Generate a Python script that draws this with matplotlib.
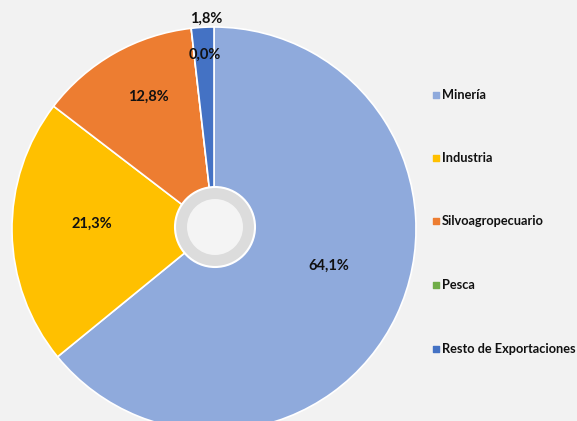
import matplotlib.pyplot as plt
from matplotlib.patches import Circle

# data
categories = ['Minería', 'Industria', 'Silvoagropecuario', 'Pesca', 'Resto de Exportaciones']
values = [64.1, 21.3, 12.8, 0.0, 1.8]
colors = ['#8FAADC', '#FFC000', '#ED7D31', '#70AD47', '#4472C4']
labels = ['64,1%', '21,3%', '12,8%', '0,0%', '1,8%']

plt.rcParams['font.family'] = ['Lato', 'DejaVu Sans']

W, H = 577, 421
fig = plt.figure(figsize=(W / 100, H / 100), dpi=100)
fig.patch.set_facecolor('#F2F2F2')
ax = fig.add_axes([0, 0, 1, 1])

cx, cy, r = 214, H - 229, 202
ax.pie(values, colors=colors, startangle=90, counterclock=False,
       center=(cx, cy), radius=r, frame=True,
       wedgeprops=dict(edgecolor='white', linewidth=1.2))
ax.set_xlim(0, W)
ax.set_ylim(0, H)
ax.set_aspect('equal')
ax.axis('off')

# center hole
ax.add_patch(Circle((cx + 1, H - 227), 40, facecolor='#DCDCDC', edgecolor='white', lw=1.5, zorder=5))
ax.add_patch(Circle((cx + 1, H - 227), 28, facecolor='#F4F4F4', edgecolor='none', zorder=6))

# value labels
label_pos = [(329, 266), (92, 224), (148, 97), (205, 55), (206, 19)]
for (x, y), t in zip(label_pos, labels):
    ax.text(x, H - y, t, ha='center', va='center', fontsize=10.5, fontweight='bold', color='#111111', zorder=7)

# legend
leg_y = [95, 158, 221, 285, 349]
for y, c, name in zip(leg_y, colors, categories):
    ax.scatter([436], [H - y], marker='s', s=24, color=c, zorder=7)
    ax.text(442, H - y, name, ha='left', va='center', fontsize=9.2, fontweight='bold', color='#111111')

fig.savefig('out.png', dpi=100, facecolor=fig.get_facecolor())
